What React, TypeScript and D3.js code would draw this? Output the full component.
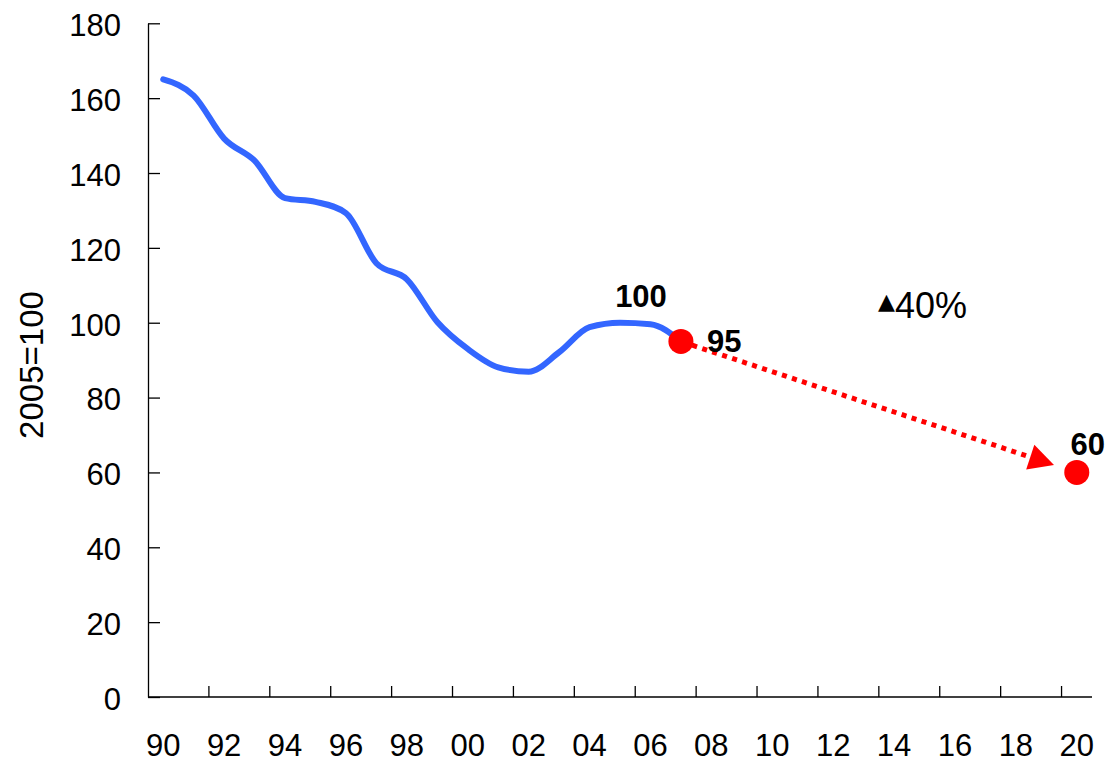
import React, { useEffect, useRef } from 'react';
import * as d3 from 'd3';

// category axis: one slot per year
const years = d3.range(1990, 2021);
const tickYears = [1990, 1992, 1994, 1996, 1998, 2000, 2002, 2004, 2006, 2008, 2010, 2012, 2014, 2016, 2018, 2020];
const tickLabels = ['90', '92', '94', '96', '98', '00', '02', '04', '06', '08', '10', '12', '14', '16', '18', '20'];
const yTicks = [0, 20, 40, 60, 80, 100, 120, 140, 160, 180];

// index, 2005 = 100
const histYears = [1990, 1991, 1992, 1993, 1994, 1995, 1996, 1997, 1998, 1999, 2000, 2001, 2002, 2003, 2004, 2005, 2006, 2007];
const histValues = [165.0, 160.7, 149.2, 143.3, 133.3, 132.3, 129.3, 115.9, 111.6, 100.2, 93.0, 88.1, 86.9, 92.1, 98.8, 100.0, 99.6, 95.0];

// target points
const targetYears = [2007, 2020];
const targetValues = [95, 60];
const targetLabels = ['95', '60'];

const FONT = '"Liberation Sans", Arial, sans-serif';

export default function App() {
  const svgRef = useRef<SVGSVGElement>(null);

  useEffect(() => {
    if (!svgRef.current) return;
    const svg = d3.select(svgRef.current);
    svg.selectAll('*').remove();

    const width = 1117;
    const height = 762;
    const margin = { top: 23.3, right: 25, bottom: 65, left: 148 };

    svg.attr('width', width).attr('height', height);

    const x = d3
      .scaleBand<number>()
      .domain(years)
      .range([margin.left, width - margin.right]);
    const cx = (yr: number) => x(yr)! + x.bandwidth() / 2;

    const y = d3
      .scaleLinear()
      .domain([0, 180])
      .range([height - margin.bottom, margin.top]);

    // Y axis
    const yAxis = svg
      .append('g')
      .attr('transform', `translate(${margin.left},0)`)
      .call(
        d3
          .axisLeft(y)
          .tickValues(yTicks)
          .tickSizeInner(-12)
          .tickSizeOuter(0)
          .tickPadding(27)
      );
    yAxis.select('.domain').attr('stroke', '#000').attr('stroke-width', 1.3);
    yAxis.selectAll('.tick line').attr('stroke', '#000').attr('stroke-width', 1.3);
    yAxis
      .selectAll('.tick text')
      .attr('font-family', FONT)
      .attr('font-size', 31)
      .attr('fill', '#000')
      .attr('dy', '0.4em');

    // X axis
    const x0 = height - margin.bottom;
    svg
      .append('line')
      .attr('x1', margin.left)
      .attr('x2', width - margin.right)
      .attr('y1', x0)
      .attr('y2', x0)
      .attr('stroke', '#000')
      .attr('stroke-width', 1.3);

    svg
      .append('g')
      .selectAll('line')
      .data(tickYears.slice(1))
      .join('line')
      .attr('x1', (d) => x(d)!)
      .attr('x2', (d) => x(d)!)
      .attr('y1', x0)
      .attr('y2', x0 - 11)
      .attr('stroke', '#000')
      .attr('stroke-width', 1.3);

    svg
      .append('g')
      .selectAll('text')
      .data(tickYears)
      .join('text')
      .attr('x', (d) => cx(d))
      .attr('y', 756)
      .attr('text-anchor', 'middle')
      .attr('font-family', FONT)
      .attr('font-size', 31)
      .attr('fill', '#000')
      .text((d, i) => tickLabels[i]);

    // Y title
    svg
      .append('text')
      .attr('transform', `translate(43,365) rotate(-90)`)
      .attr('text-anchor', 'middle')
      .attr('font-family', FONT)
      .attr('font-size', 33)
      .attr('fill', '#000')
      .text('2005=100');

    // history line
    const line = d3
      .line<number>()
      .x((d, i) => cx(histYears[i]))
      .y((d) => y(d))
      .curve(d3.curveMonotoneX);

    svg
      .append('path')
      .datum(histValues)
      .attr('d', line)
      .attr('fill', 'none')
      .attr('stroke', '#3366ff')
      .attr('stroke-width', 6)
      .attr('stroke-linecap', 'round')
      .attr('stroke-linejoin', 'round');

    // dotted arrow between targets
    const p1: [number, number] = [cx(targetYears[0]), y(targetValues[0])];
    const p2: [number, number] = [cx(targetYears[1]), y(targetValues[1])];
    const dx = p2[0] - p1[0];
    const dy = p2[1] - p1[1];
    const len = Math.sqrt(dx * dx + dy * dy);
    const ux = dx / len;
    const uy = dy / len;
    const tip = [p2[0] - ux * 24, p2[1] - uy * 24];
    const base = [tip[0] - ux * 25, tip[1] - uy * 25];
    const hw = 13;

    svg
      .append('line')
      .attr('x1', p1[0] + ux * 12)
      .attr('y1', p1[1] + uy * 12)
      .attr('x2', base[0] + ux * 2)
      .attr('y2', base[1] + uy * 2)
      .attr('stroke', '#ff0000')
      .attr('stroke-width', 5)
      .attr('stroke-dasharray', '5,5.5');

    svg
      .append('polygon')
      .attr(
        'points',
        [
          tip,
          [base[0] - uy * hw, base[1] + ux * hw],
          [base[0] + uy * hw, base[1] - ux * hw],
        ]
          .map((p) => p.join(','))
          .join(' ')
      )
      .attr('fill', '#ff0000');

    // target dots
    svg
      .append('g')
      .selectAll('circle')
      .data(targetValues)
      .join('circle')
      .attr('cx', (d, i) => cx(targetYears[i]))
      .attr('cy', (d) => y(d))
      .attr('r', 12.5)
      .attr('fill', '#ff0000');

    // value labels
    const bold = (tx: number, ty: number, s: string, anchor: string) =>
      svg
        .append('text')
        .attr('x', tx)
        .attr('y', ty)
        .attr('text-anchor', anchor)
        .attr('font-family', FONT)
        .attr('font-size', 31)
        .attr('font-weight', 'bold')
        .attr('fill', '#000')
        .text(s);

    bold(cx(2005) + 21, y(100) - 16, '100', 'middle');
    bold(p1[0] + 26, p1[1] + 11, targetLabels[0], 'start');
    bold(p2[0] + 11, p2[1] - 17, targetLabels[1], 'middle');

    // reduction note
    const note = svg
      .append('text')
      .attr('x', cx(2014) - 16)
      .attr('y', 318)
      .attr('font-family', FONT)
      .attr('font-size', 36)
      .attr('fill', '#000');
    note
      .append('tspan')
      .attr('font-family', '"DejaVu Sans", sans-serif')
      .attr('font-size', 22)
      .attr('dy', -9)
      .text('▲');
    note.append('tspan').attr('dy', 9).text('40%');
  }, []);

  return (
    <div style={{ position: 'absolute', left: 0, top: 0, background: '#fff' }}>
      <svg ref={svgRef} style={{ display: 'block' }}></svg>
    </div>
  );
}
